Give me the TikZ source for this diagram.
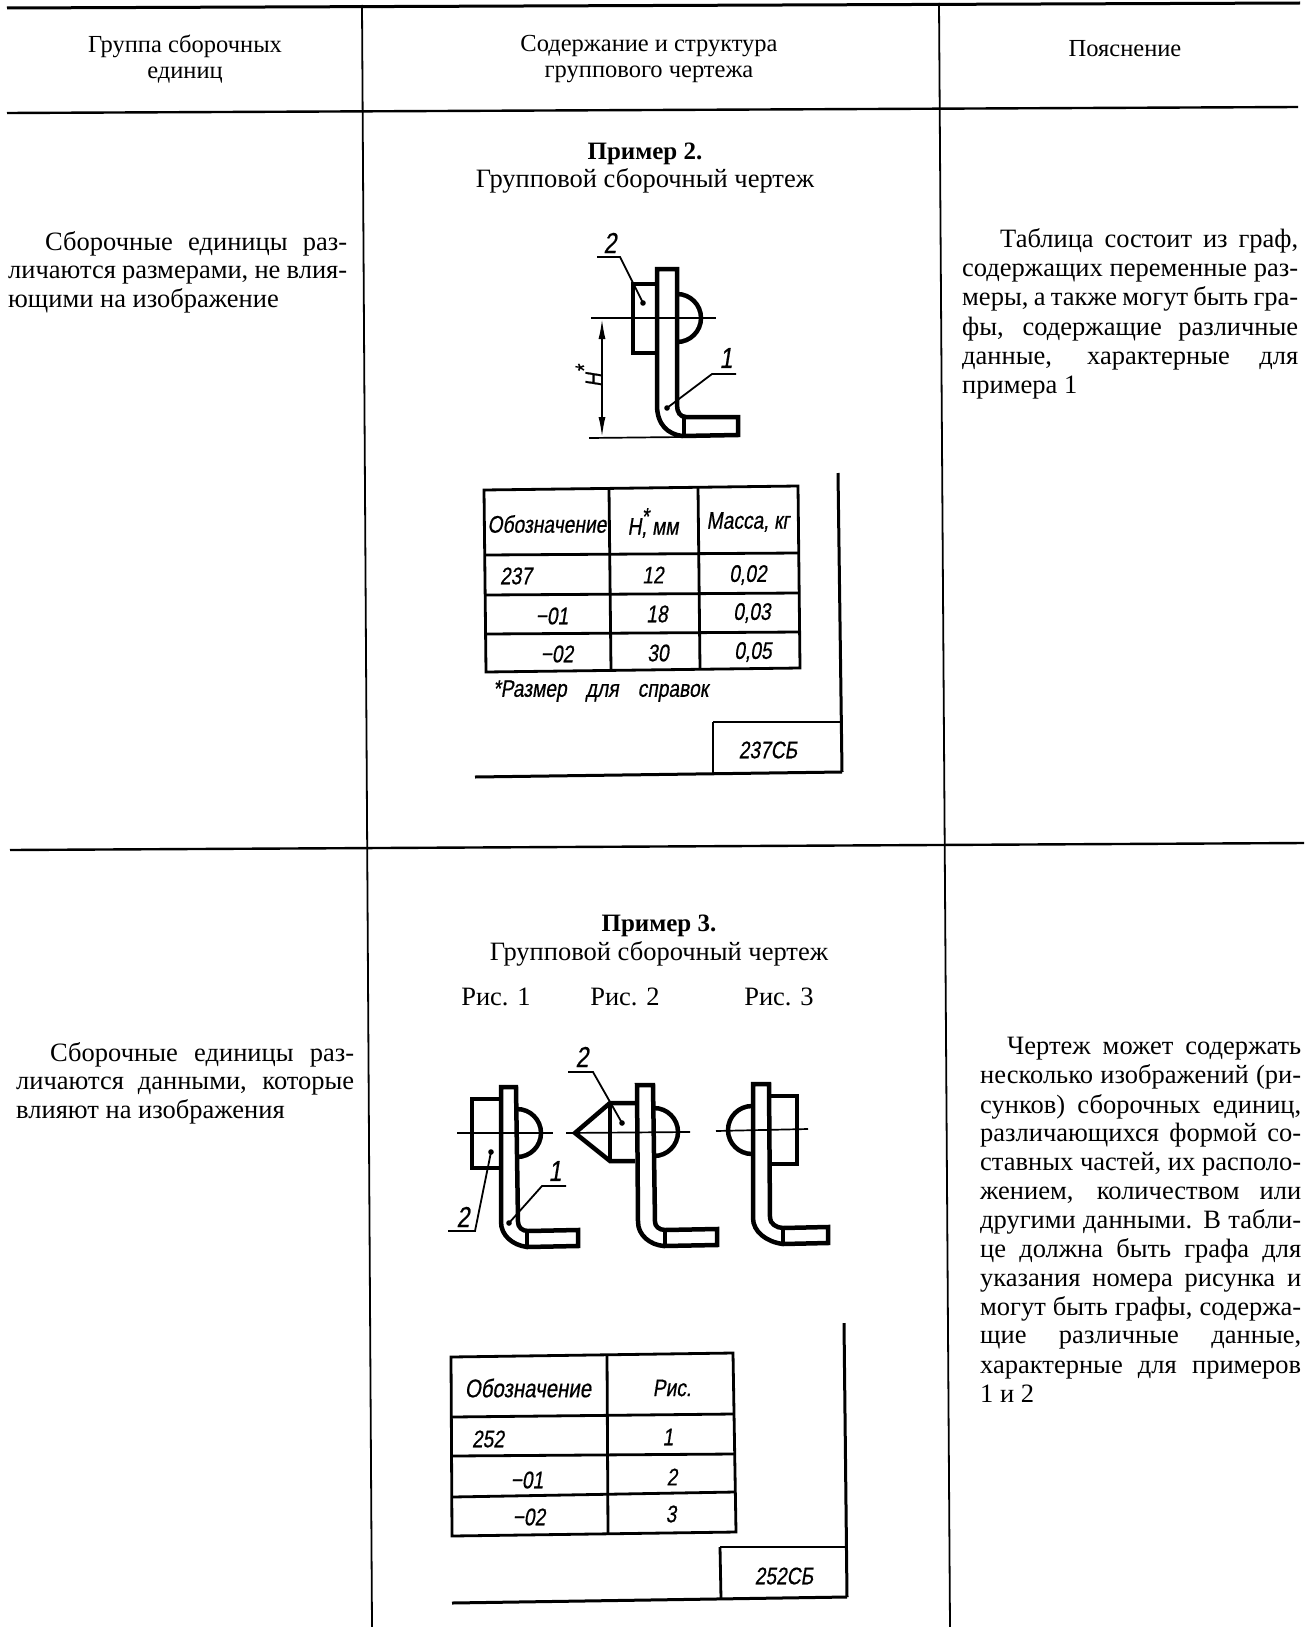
\documentclass[tikz,border=0pt]{standalone}
\usepackage{fontspec}
\setmainfont{Liberation Serif}
\newfontfamily\gost[FakeSlant=0.16,FakeStretch=0.8,FakeBold=0.6]{Liberation Sans}
\usetikzlibrary{arrows.meta}
\tikzset{
  rule/.style={line width=2pt,black},
  vrule/.style={line width=1.8pt,black},
  thick part/.style={line width=4.5pt,line join=miter,black},
  tab/.style={line width=2.8pt,black},
  frame/.style={line width=3pt,black},
  axis/.style={line width=1.7pt,black},
  leader/.style={line width=1.8pt,black},
  body/.style={inner sep=0pt,anchor=base west,font=\fontsize{26.5}{26.5}\selectfont},
  bodyc/.style={inner sep=0pt,anchor=base,font=\fontsize{26.5}{26.5}\selectfont},
  title/.style={inner sep=0pt,anchor=base,font=\bfseries\fontsize{25}{25}\selectfont},
  head/.style={inner sep=0pt,anchor=base,font=\fontsize{24.5}{24.5}\selectfont},
  dtxt/.style={inner sep=0pt,anchor=center,font=\gost\fontsize{24}{24}\selectfont},
  dtxtb/.style={inner sep=0pt,anchor=center,font=\gost\fontsize{25.5}{25.5}\selectfont},
  numl/.style={inner sep=0pt,anchor=center,font=\gost\fontsize{29}{29}\selectfont},
}
\newcommand{\jl}[5]{\node[body] (#1) at (#2,#3) {\makebox[#4pt][s]{#5}};}
\begin{document}
\begin{tikzpicture}[x=1pt,y=-1pt]
\useasboundingbox (0,0) rectangle (1304,1627);
\fill[white] (0,0) rectangle (1304,1627);
% table rules
\coordinate (tl) at (7,8); \coordinate (tr) at (1300,3);
\coordinate (hl) at (7,113); \coordinate (hr) at (1298,107);
\coordinate (ml) at (10,850); \coordinate (mr) at (1304,843);
\coordinate (v1t) at (362,5); \coordinate (v1b) at (372,1627);
\coordinate (v2t) at (939,3); \coordinate (v2b) at (950,1627);
\draw[rule,line width=3pt] (tl) -- (tr);
\draw[rule,line width=2.4pt] (hl) -- (hr);
\draw[rule,line width=2.4pt] (ml) -- (mr);
\draw[vrule] (v1t) -- (v1b);
\draw[vrule] (v2t) -- (v2b);
% headers
\node[head] (h1a) at (185,53) {Группа сборочных};
\node[head] (h1b) at (185,79) {единиц};
\node[head] (h2a) at (649,52) {Содержание и структура};
\node[head] (h2b) at (649,78) {группового чертежа};
\node[head] (h3) at (1125,57) {Пояснение};
% row 1
\jl{a1}{45}{250}{302}{Сборочные единицы раз-}
\jl{a2}{8}{278}{339}{личаются размерами, не влия-}
\node[body] (a3) at (8,307) {ющими на изображение};
\node[title] (p2) at (645,160) {Пример 2.};
\node[bodyc] (p2b) at (645,187) {Групповой сборочный чертеж};
\jl{c1}{1000}{247}{298}{Таблица состоит из граф,}
\jl{c2}{962}{276}{336}{содержащих переменные раз-}
\jl{c3}{962}{305}{336}{меры, а также могут быть гра-}
\jl{c4}{962}{335}{336}{фы, содержащие различные}
\jl{c5}{962}{364}{336}{данные, характерные для}
\node[body] (c6) at (962,393) {примера 1};
% drawing 1
\draw[thick part] (657,405) -- (657,269) -- (677,269) -- (677,405) .. controls (677,412) and (680,417) .. (686,417) -- (738,417) -- (738,435) -- (682,436) .. controls (668,434) and (657,425) .. (657,405);
\draw[thick part] (684,417) -- (684,436);
\draw[thick part] (655,284) -- (633,284) -- (633,353) -- (655,353);
\draw[thick part] (677,294) arc[start angle=-90,end angle=90,radius=24];
\draw[axis] (591,318) -- (716,318);
\draw[axis] (589,438) -- (683,437);
\draw[axis,{Latex[length=20pt,width=7pt]}-{Latex[length=20pt,width=7pt]}] (602,319) -- (602,437);
\node[dtxt,rotate=90] (hs) at (589,380) {H\rlap{\raisebox{10pt}{*}}};
\draw[leader] (597,257) -- (620,257) -- (643,303);
\fill (643,303) circle[radius=2.8];
\draw[leader] (736,374) -- (712,374) -- (667,408);
\fill (667,408) circle[radius=2.8];
\node[numl] (n2a) at (610,243) {2};
\node[numl] (n1a) at (726,358) {1};
% table 1
\draw[tab] (484,490) -- (798,486) -- (800,668) -- (486,672) -- cycle;
\draw[tab] (609,489) -- (611,671);
\draw[tab] (698,487) -- (700,669);
\draw[tab] (485,555) -- (799,553);
\draw[tab] (485,595) -- (799,593);
\draw[tab] (486,634) -- (800,632);
\node[dtxt] (t11) at (547,524) {Обозначение};
\node[dtxt] (t12) at (653,523) {H\rlap{\raisebox{10pt}{*}},~мм};
\node[dtxt] (t13) at (748,522) {Масса,~кг};
\node[dtxt] (t21) at (516,576) {237};
\node[dtxt] (t22) at (653,575) {12};
\node[dtxt] (t23) at (748,575) {0,02};
\node[dtxt] (t31) at (552,616) {−01};
\node[dtxt] (t32) at (657,614) {18};
\node[dtxt] (t33) at (752,613) {0,03};
\node[dtxt] (t41) at (557,654) {−02};
\node[dtxt] (t42) at (658,653) {30};
\node[dtxt] (t43) at (753,652) {0,05};
\node[dtxt,anchor=west] (note) at (493,691) {\makebox[215pt][s]{*Размер для справок}};
\draw[frame] (838,473) -- (842,772);
\draw[frame] (475,777) -- (842,772);
\draw[tab] (713,722) -- (840,722);
\draw[tab] (713,722) -- (713,775);
\node[dtxt] (st1) at (768,750) {237СБ};
% row 2
\jl{b1}{50}{1061}{304}{Сборочные единицы раз-}
\jl{b2}{16}{1089}{338}{личаются данными, которые}
\node[body] (b3) at (16,1118) {влияют на изображения};
\node[title] (p3) at (659,931) {Пример 3.};
\node[bodyc] (p3b) at (659,960) {Групповой сборочный чертеж};
\node[bodyc] (r1) at (496,1005) {Рис. 1};
\node[bodyc] (r2) at (625,1005) {Рис. 2};
\node[bodyc] (r3) at (779,1005) {Рис. 3};
\jl{d1}{1007}{1054}{294}{Чертеж может содержать}
\jl{d2}{980}{1083}{321}{несколько изображений (ри-}
\jl{d3}{980}{1113}{321}{сунков) сборочных единиц,}
\jl{d4}{980}{1141}{321}{различающихся формой со-}
\jl{d5}{980}{1170}{321}{ставных частей, их располо-}
\jl{d6}{980}{1199}{321}{жением, количеством или}
\jl{d7}{980}{1228}{321}{другими данными. В табли-}
\jl{d8}{980}{1257}{321}{це должна быть графа для}
\jl{d9}{980}{1286}{321}{указания номера рисунка и}
\jl{d10}{980}{1315}{321}{могут быть графы, содержа-}
\jl{d11}{980}{1343}{321}{щие различные данные,}
\jl{d12}{980}{1373}{321}{характерные для примеров}
\node[body] (d13) at (980,1402) {1 и 2};
% drawing 2, fig 1
\draw[thick part] (501,1222) -- (501,1087) -- (516,1087) -- (518,1222) .. controls (518,1227) and (522,1231) .. (528,1231) -- (578,1230) -- (578,1246) -- (527,1247) .. controls (512,1245) and (501,1235) .. (501,1222);
\draw[thick part] (527,1231) -- (527,1247);
\draw[thick part] (499,1099) -- (472,1099) -- (472,1168) -- (499,1168);
\draw[thick part] (517,1109) arc[start angle=-90,end angle=90,radius=24];
\draw[axis] (457,1133) -- (553,1133);
\draw[leader] (448,1231) -- (475,1231) -- (491,1152);
\fill (491,1152) circle[radius=2.8];
\draw[leader] (566,1186) -- (542,1186) -- (509,1223);
\fill (509,1223) circle[radius=2.8];
\node[numl] (n2b) at (463,1217) {2};
\node[numl] (n1b) at (555,1171) {1};
% fig 2
\draw[thick part] (638,1222) -- (637,1085) -- (653,1085) -- (655,1222) .. controls (655,1226) and (659,1230) .. (665,1230) -- (717,1229) -- (717,1245) -- (664,1246) .. controls (650,1245) and (638,1235) .. (638,1222);
\draw[thick part] (665,1230) -- (665,1246);
\draw[thick part] (635,1103) -- (610,1103) -- (575,1133) -- (610,1161) -- (635,1161);
\draw[thick part] (610,1103) -- (610,1161);
\draw[thick part] (654,1108) arc[start angle=-90,end angle=90,radius=24];
\draw[axis] (566,1133) -- (690,1132);
\draw[leader] (568,1072) -- (593,1072) -- (622,1123);
\fill (622,1123) circle[radius=2.8];
\node[numl] (n2c) at (582,1057) {2};
% fig 3
\draw[thick part] (753,1218) -- (753,1084) -- (769,1084) -- (770,1218) .. controls (770,1223) and (776,1228) .. (783,1228) -- (828,1227) -- (828,1243) -- (783,1244) .. controls (767,1242) and (753,1232) .. (753,1218);
\draw[thick part] (783,1228) -- (783,1244);
\draw[thick part] (771,1096) -- (797,1096) -- (797,1164) -- (771,1164);
\draw[thick part] (752,1106) arc[start angle=-90,end angle=-270,radius=24];
\draw[axis] (716,1131) -- (808,1129);
% table 2
\draw[tab] (451,1357) -- (733,1353) -- (736,1532) -- (452,1536) -- cycle;
\draw[tab] (607,1355) -- (608,1534);
\draw[tab] (452,1417) -- (733,1414);
\draw[tab] (452,1456) -- (734,1454);
\draw[tab] (452,1497) -- (735,1492);
\node[dtxtb] (u11) at (528,1388) {Обозначение};
\node[dtxt] (u12) at (672,1388) {Рис.};
\node[dtxt] (u21) at (488,1439) {252};
\node[dtxt] (u22) at (668,1437) {1};
\node[dtxt] (u31) at (527,1480) {−01};
\node[dtxt] (u32) at (672,1477) {2};
\node[dtxt] (u41) at (529,1517) {−02};
\node[dtxt] (u42) at (671,1514) {3};
\draw[frame] (844,1323) -- (847,1597);
\draw[frame] (452,1603) -- (847,1597);
\draw[tab] (720,1547) -- (846,1547);
\draw[tab] (720,1547) -- (721,1599);
\node[dtxt] (st2) at (784,1576) {252СБ};
\end{tikzpicture}
\end{document}
